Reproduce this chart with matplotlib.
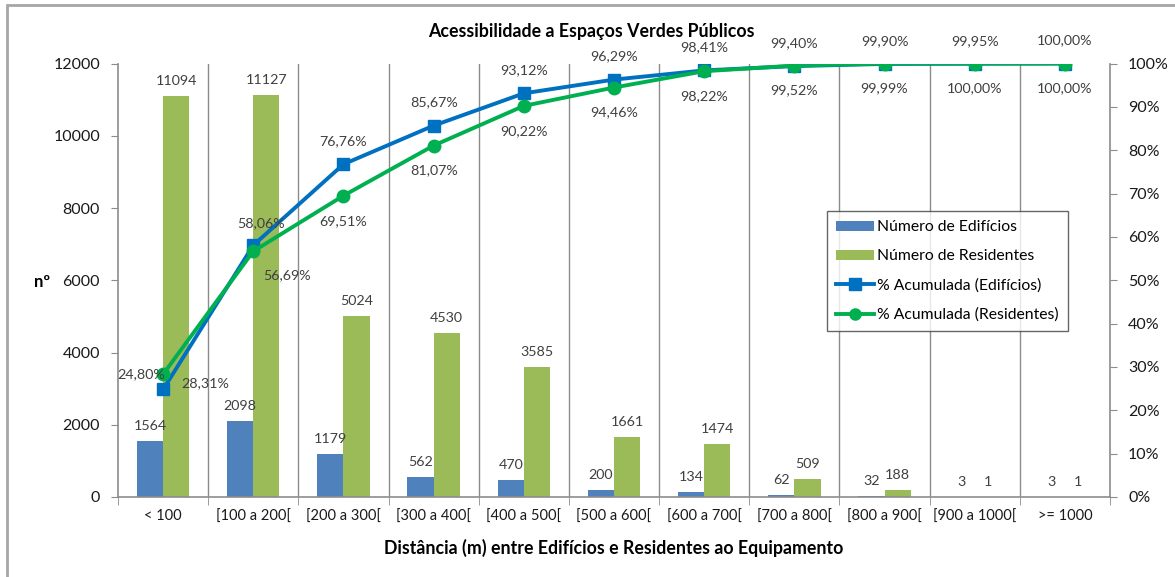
import matplotlib
matplotlib.use("Agg")
import matplotlib.pyplot as plt
import numpy as np
from matplotlib.patches import Rectangle, Patch
from matplotlib.lines import Line2D

categories = ["< 100", "[100 a 200[", "[200 a 300[", "[300 a 400[", "[400 a 500[",
              "[500 a 600[", "[600 a 700[", "[700 a 800[", "[800 a 900[", "[900 a 1000[", ">= 1000"]
edificios = [1564, 2098, 1179, 562, 470, 200, 134, 62, 32, 3, 3]
residentes = [11094, 11127, 5024, 4530, 3585, 1661, 1474, 509, 188, 1, 1]
acum_edificios = [24.80, 58.06, 76.76, 85.67, 93.12, 96.29, 98.41, 99.40, 99.90, 99.95, 100.00]
acum_residentes = [28.31, 56.69, 69.51, 81.07, 90.22, 94.46, 98.22, 99.52, 99.99, 100.00, 100.00]
left_ticks = [0, 2000, 4000, 6000, 8000, 10000, 12000]
right_ticks = [0, 10, 20, 30, 40, 50, 60, 70, 80, 90, 100]

FONT = ["Lato", "DejaVu Sans"]
plt.rcParams['font.family'] = FONT

C_BAR_B = "#4F81BD"
C_BAR_G = "#9BBB59"
C_LINE_B = "#0070C0"
C_LINE_G = "#00B050"
C_LBL = "#404040"
C_GRID = "#8C8C8C"

fig = plt.figure(figsize=(11.75, 5.77), dpi=100)
W, H = 1175, 577
L, R, T, B = 118, 1110, 63.5, 497
ax = fig.add_axes([L / W, 1 - B / H, (R - L) / W, (B - T) / H])

x = np.arange(len(categories))
bw = 0.29
ax.bar(x - bw / 2, edificios, bw, color=C_BAR_B, zorder=2)
ax.bar(x + bw / 2, residentes, bw, color=C_BAR_G, zorder=2)
ax.set_xlim(-0.5, len(categories) - 0.5)
ax.set_ylim(0, 12000)
ax.set_yticks(left_ticks)
ax.set_yticklabels([str(v) for v in left_ticks], fontsize=11.5, color="#1a1a1a")
ax.set_xticks(x)
ax.set_xticklabels(categories, fontsize=10.5, color="#1a1a1a")
ax.tick_params(axis='x', length=0, pad=9)
ax.tick_params(axis='y', length=5, color=C_GRID, pad=8)
for b in np.arange(0.5, len(categories) - 0.5, 1.0):
    ax.axvline(b, color=C_GRID, lw=1, zorder=1)
ax.set_xticks(np.arange(-0.5, len(categories) + 0.5, 1.0), minor=True)
ax.tick_params(axis='x', which='minor', length=6, color=C_GRID)
for s in ['top', 'right']:
    ax.spines[s].set_visible(False)
ax.spines['left'].set_color(C_GRID)
ax.spines['bottom'].set_color(C_GRID)
ax.spines['left'].set_linewidth(1.2)
ax.spines['bottom'].set_linewidth(1.2)

for i, v in enumerate(edificios):
    ax.annotate(str(v), (x[i] - bw / 2, v), xytext=(0, 9), textcoords='offset pixels',
                ha='center', va='bottom', fontsize=10.3, color=C_LBL)
for i, v in enumerate(residentes):
    ax.annotate(str(v), (x[i] + bw / 2, v), xytext=(0, 9), textcoords='offset pixels',
                ha='center', va='bottom', fontsize=10.3, color=C_LBL)

ax2 = ax.twinx()
ax2.set_position(ax.get_position())
ax2.set_ylim(0, 100)
ax2.set_yticks(right_ticks)
ax2.set_yticklabels([f"{v}%" for v in right_ticks], fontsize=11.5, color="#1a1a1a")
ax2.tick_params(axis='y', length=5, color=C_GRID, pad=8)
for s in ['top', 'left', 'bottom']:
    ax2.spines[s].set_visible(False)
ax2.spines['right'].set_color(C_GRID)
ax2.spines['right'].set_linewidth(1.2)

ax2.plot(x, acum_edificios, color=C_LINE_B, lw=2.8, marker='s', ms=9, zorder=3)
ax2.plot(x, acum_residentes, color=C_LINE_G, lw=2.8, marker='o', ms=9, zorder=4)

def pct(v):
    return f"{v:.2f}%".replace('.', ',')

for i, v in enumerate(acum_edificios):
    if i == 0:
        ax2.annotate(pct(v), (x[i], acum_residentes[i]), xytext=(-22, 0), textcoords='offset pixels',
                     ha='center', va='center', fontsize=10.3, color=C_LBL, zorder=6)
    elif i == 1:
        ax2.annotate(pct(v), (x[i], v), xytext=(8, 22), textcoords='offset pixels',
                     ha='center', va='center', fontsize=10.3, color=C_LBL, zorder=6)
    else:
        ax2.annotate(pct(v), (x[i], v), xytext=(0, 23), textcoords='offset pixels',
                     ha='center', va='center', fontsize=10.3, color=C_LBL, zorder=6)
for i, v in enumerate(acum_residentes):
    if i == 0:
        ax2.annotate(pct(v), (x[i], acum_edificios[i]), xytext=(42, 6), textcoords='offset pixels',
                     ha='center', va='center', fontsize=10.3, color=C_LBL, zorder=6)
    elif i == 1:
        ax2.annotate(pct(v), (x[i], v), xytext=(34, -24), textcoords='offset pixels',
                     ha='center', va='center', fontsize=10.3, color=C_LBL, zorder=6)
    else:
        ax2.annotate(pct(v), (x[i], v), xytext=(0, -25), textcoords='offset pixels',
                     ha='center', va='center', fontsize=10.3, color=C_LBL, zorder=6)

fig.text(591 / W, 1 - 31 / H, "Acessibilidade a Espaços Verdes Públicos", ha='center', va='center',
         fontsize=12.8, fontweight='bold', color="#000000")
fig.text(614 / W, 1 - 548 / H, "Distância (m) entre Edifícios e Residentes ao Equipamento", ha='center',
         va='center', fontsize=12.8, fontweight='bold', color="#000000")
fig.text(42 / W, 1 - 282 / H, "nº", ha='center', va='center', fontsize=12, fontweight='bold', color="#000000")

handles = [Patch(facecolor=C_BAR_B, edgecolor='none'), Patch(facecolor=C_BAR_G, edgecolor='none'),
           Line2D([0], [0], color=C_LINE_B, lw=2.8, marker='s', ms=8),
           Line2D([0], [0], color=C_LINE_G, lw=2.8, marker='o', ms=8)]
labels = ["Número de Edifícios", "Número de Residentes", "% Acumulada (Edifícios)", "% Acumulada (Residentes)"]
leg = fig.legend(handles, labels, loc='upper left', bbox_to_anchor=(827 / W, 1 - 211 / H),
                 fontsize=11.3, frameon=True, fancybox=False, edgecolor="#404040",
                 handlelength=2.4, handleheight=0.6, labelspacing=0.95, borderpad=0.6,
                 handletextpad=0.2, borderaxespad=0)
leg.get_frame().set_linewidth(1.0)

fig.patches.append(Rectangle((7 / W, -0.1), 1.2, 1 - 5 / H + 0.1, transform=fig.transFigure,
                             fill=False, edgecolor="#A6A6A6", lw=2.0, zorder=10))

fig.savefig("out.png", dpi=100, facecolor="white")
